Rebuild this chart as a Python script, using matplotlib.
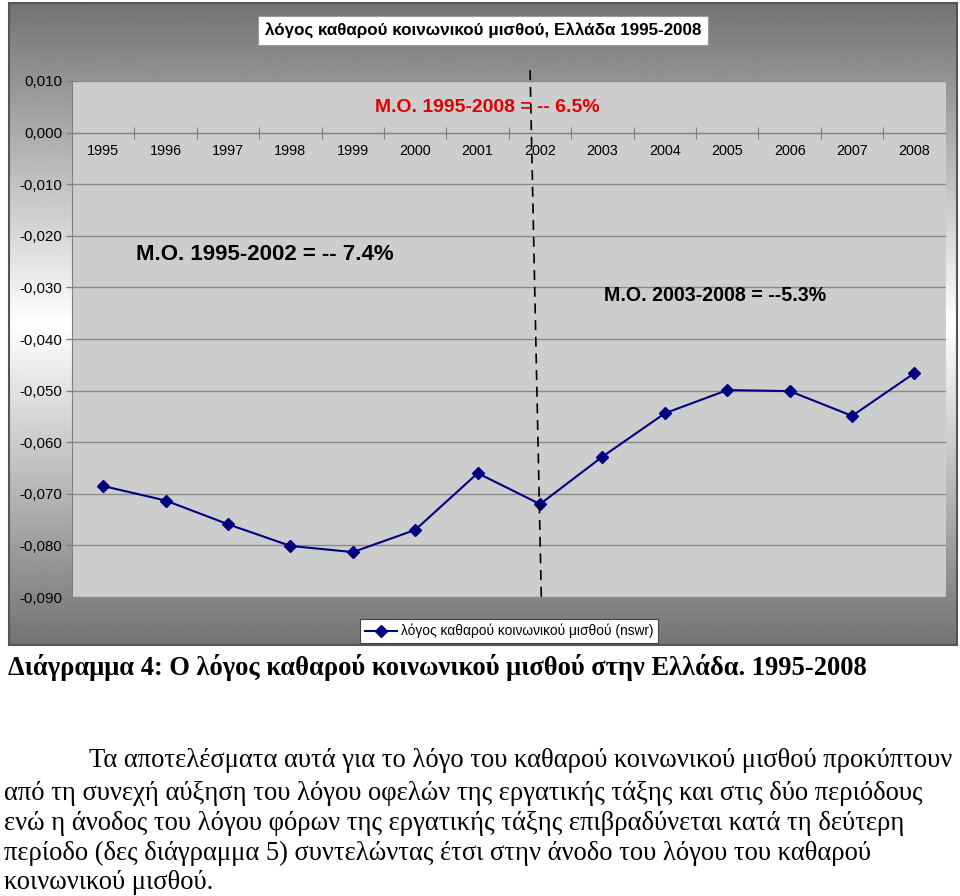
import matplotlib
matplotlib.use('Agg')
import matplotlib.pyplot as plt
import numpy as np
from matplotlib.ticker import FixedLocator, FuncFormatter, NullFormatter

# ---------------- data ----------------
years = ['1995', '1996', '1997', '1998', '1999', '2000', '2001',
         '2002', '2003', '2004', '2005', '2006', '2007', '2008']
nswr = [-0.0685, -0.0713, -0.0759, -0.0801, -0.0813, -0.0770, -0.0660,
        -0.0720, -0.0628, -0.0544, -0.0499, -0.0501, -0.0549, -0.0466]
yticks = [0.010, 0.000, -0.010, -0.020, -0.030, -0.040, -0.050,
          -0.060, -0.070, -0.080, -0.090]
series_label = 'λόγος καθαρού κοινωνικού μισθού (nswr)'
chart_title = 'λόγος καθαρού κοινωνικού μισθού, Ελλάδα 1995-2008'
avg_all = 'M.O. 1995-2008 = -- 6.5%'
avg_first = 'M.O. 1995-2002 = -- 7.4%'
avg_second = 'M.O. 2003-2008 = --5.3%'
# period divider (between the two sub-periods, around 2002)
divider_x = [6.84, 7.02]
divider_y = [0.0121, -0.090]
caption = 'Διάγραμμα 4: Ο λόγος καθαρού κοινωνικού μισθού στην Ελλάδα. 1995-2008'
paragraph = [
    'Τα αποτελέσματα αυτά για το λόγο του καθαρού κοινωνικού μισθού προκύπτουν',
    'από τη συνεχή αύξηση του λόγου οφελών της εργατικής τάξης και στις δύο περιόδους',
    'ενώ η άνοδος του λόγου φόρων της εργατικής τάξης επιβραδύνεται κατά τη δεύτερη',
    'περίοδο (δες διάγραμμα 5) συντελώντας έτσι στην άνοδο του λόγου του καθαρού',
    'κοινωνικού μισθού.',
]

# ---------------- layout helpers ----------------
W, H = 960, 896
plt.rcParams['font.family'] = ['Liberation Sans', 'DejaVu Sans']
fig = plt.figure(figsize=(W / 100, H / 100), dpi=100)
fig.patch.set_facecolor('white')


def fx(px):
    return px / W


def fy(py):
    return 1 - py / H


# ---------------- chart background (gradient frame) ----------------
bg = fig.add_axes([fx(9), fy(645), fx(957) - fx(9), fy(3) - fy(645)])
t = np.linspace(0, 1, 400)
prof = 1 - np.abs(t - 0.5) * 2 * (1 - 0.45)
grad = np.tile(prof[:, None], (1, 2))
bg.imshow(grad, cmap='gray', vmin=0, vmax=1, aspect='auto',
          extent=[0, 1, 0, 1], interpolation='bilinear')
bg.set_xlim(0, 1)
bg.set_ylim(0, 1)
bg.set_xticks([])
bg.set_yticks([])
for s in bg.spines.values():
    s.set_color('#555555')
    s.set_linewidth(1.5)
bg.set_zorder(0)

# ---------------- main plot ----------------
ax = fig.add_axes([fx(72), fy(597), fx(945.7) - fx(72), fy(81) - fy(597)])
ax.set_zorder(1)
ax.set_facecolor('#cdcdcd')
x = np.arange(len(years))
ax.set_xlim(-0.5, len(years) - 0.5)
ax.set_ylim(yticks[-1], yticks[0])

ax.yaxis.set_major_locator(FixedLocator(yticks))
ax.yaxis.set_major_formatter(FuncFormatter(lambda v, p: f'{v:.3f}'.replace('.', ',').replace('-0,000', '0,000')))
ax.tick_params(axis='y', direction='out', length=4, width=1, color='#808080',
               labelsize=10.8, pad=3, labelcolor='black')
ax.yaxis.grid(True, color='#8a8a8a', linewidth=1)
ax.set_axisbelow(True)

ax.spines['top'].set_visible(False)
ax.spines['right'].set_visible(False)
ax.spines['left'].set_color('#808080')
ax.spines['bottom'].set_position(('data', 0))
ax.spines['bottom'].set_color('#808080')

ax.xaxis.set_major_locator(FixedLocator(np.arange(0.5, len(years) - 0.5, 1)))
ax.xaxis.set_major_formatter(NullFormatter())
ax.set_xticks(x, minor=True)
ax.set_xticklabels(years, minor=True)
ax.tick_params(axis='x', which='major', direction='inout', length=8, color='#808080')
ax.tick_params(axis='x', which='minor', length=0, pad=8, labelsize=10.4)

ax.plot(x, nswr, color='#000080', linewidth=1.5, marker='D', markersize=6.5,
        markeredgecolor='#000080', markerfacecolor='#000080', label=series_label, zorder=3)

ax.plot(divider_x, divider_y, color='black', linestyle=(0, (6, 4)), linewidth=1.2,
        clip_on=False, zorder=4)

t_all = ax.text(6.15, 0.0048, avg_all, color='#e00000', fontsize=13, fontweight='bold',
                ha='center', va='center', zorder=5)
t_first = ax.text(2.59, -0.0237, avg_first, color='black', fontsize=13, fontweight='bold',
                  ha='center', va='center', zorder=5)
t_second = ax.text(9.81, -0.0316, avg_second, color='black', fontsize=13, fontweight='bold',
                   ha='center', va='center', zorder=5)

leg = ax.legend(loc='center', bbox_to_anchor=(fx(509), fy(631)), bbox_transform=fig.transFigure,
                frameon=True, fancybox=False, edgecolor='#444444', framealpha=1,
                fontsize=9, handlelength=2.6, handletextpad=0.3, borderpad=0.35,
                borderaxespad=0)
leg.get_frame().set_linewidth(0.8)

# ---------------- chart title box ----------------
t_title = fig.text(fx(483), fy(30.5), chart_title, ha='center', va='center', fontsize=10.5,
                   fontweight='bold', zorder=6,
                   bbox=dict(boxstyle='square,pad=0.4', fc='white', ec='#9a9a9a', lw=0.8))

# ---------------- caption and paragraph ----------------
t_cap = fig.text(fx(8), fy(667), caption, ha='left', va='center', fontsize=16,
                 fontweight='bold', family=['Liberation Serif', 'DejaVu Serif'])
line_y = [760, 793, 823, 853, 882]
t_par = []
for i, (ln, yy) in enumerate(zip(paragraph, line_y)):
    if i == 0:
        tt = fig.text(fx(952), fy(yy), ln, ha='right', va='center', fontsize=16,
                      family=['Liberation Serif', 'DejaVu Serif'])
    else:
        tt = fig.text(fx(4), fy(yy), ln, ha='left', va='center', fontsize=16,
                      family=['Liberation Serif', 'DejaVu Serif'])
    t_par.append(tt)

# ---------------- fit text widths to the reference ----------------
fig.canvas.draw()
renderer = fig.canvas.get_renderer()


def fit(txt, target):
    for _ in range(3):
        w = txt.get_window_extent(renderer).width
        txt.set_fontsize(txt.get_fontsize() * target / w)
        fig.canvas.draw()


fit(t_title, 435)
fit(t_all, 225)
fit(t_first, 257)
fit(t_second, 221)
fit(leg.get_texts()[0], 251)
fit(t_cap, 860)
fit(t_par[1], 921)
for tt in t_par:
    tt.set_fontsize(t_par[1].get_fontsize())

fig.savefig('out.png', dpi=100, facecolor='white')
